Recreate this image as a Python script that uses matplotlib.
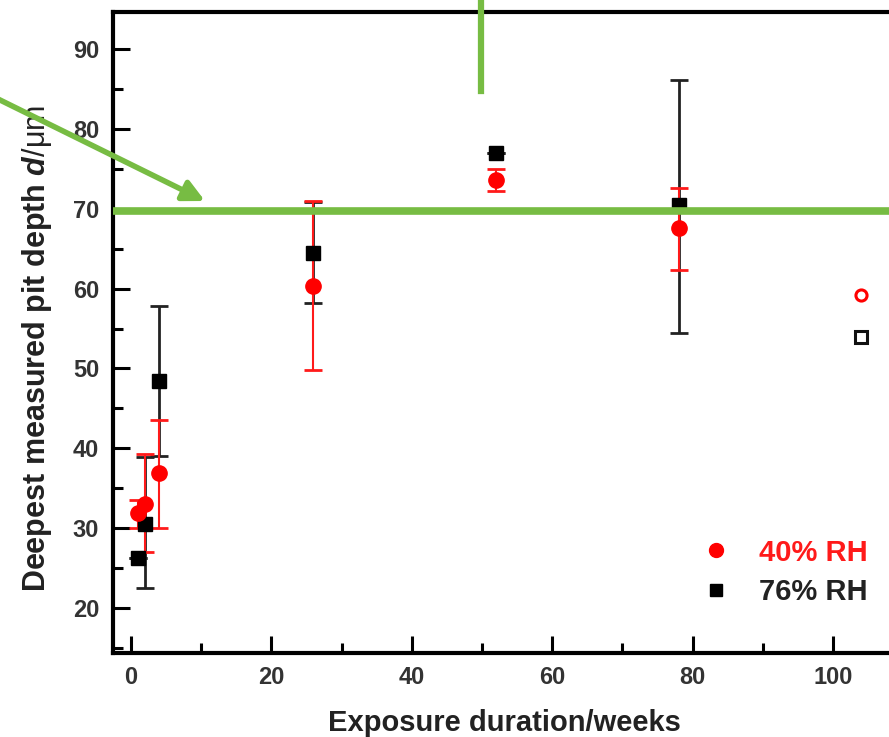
import matplotlib
matplotlib.use("Agg")
import matplotlib.pyplot as plt
from matplotlib.lines import Line2D
from matplotlib.patches import FancyArrowPatch
from matplotlib.ticker import MultipleLocator

plt.rcParams["font.family"] = ["Liberation Sans", "DejaVu Sans"]
plt.rcParams["mathtext.fontset"] = "custom"
plt.rcParams["mathtext.rm"] = "Liberation Sans"
plt.rcParams["mathtext.it"] = "Liberation Sans:italic"
plt.rcParams["mathtext.bf"] = "Liberation Sans:bold"
plt.rcParams["mathtext.bfit"] = "Liberation Sans:italic:bold"

# 40% RH series (filled circles)
weeks_40 = [1, 2, 4, 26, 52, 78]
depth_40 = [31.9, 33.1, 36.9, 60.3, 73.6, 67.6]
low_40 = [30.0, 27.0, 30.0, 49.8, 72.2, 62.3]
high_40 = [33.6, 39.3, 43.6, 70.9, 75.0, 72.6]

# 76% RH series (filled squares)
weeks_76 = [1, 2, 4, 26, 52, 78]
depth_76 = [26.3, 30.6, 48.4, 64.4, 77.0, 70.5]
low_76 = [26.3, 22.5, 39.0, 58.2, 77.0, 54.4]
high_76 = [26.3, 38.9, 57.8, 70.8, 77.0, 86.1]

# two-year single measurements (open symbols)
weeks_late = [104]
depth_late_40 = [59.2]
depth_late_76 = [53.9]

# reference depth level
ref_depth = 69.75

x_ticks = [0, 20, 40, 60, 80, 100]
y_ticks = [20, 30, 40, 50, 60, 70, 80, 90]

W, H = 889, 737
fig = plt.figure(figsize=(W / 100, H / 100), dpi=100)
ax = fig.add_axes([113 / W, 1 - 653 / H, (W - 113) / W, (653 - 12) / H])

green = "#77bc43"

err76 = [[d - l for d, l in zip(depth_76, low_76)],
         [h - d for d, h in zip(depth_76, high_76)]]
err40 = [[d - l for d, l in zip(depth_40, low_40)],
         [h - d for d, h in zip(depth_40, high_40)]]

ax.errorbar(weeks_76, depth_76, yerr=err76, fmt="none", ecolor="#222222",
            elinewidth=2.0, capsize=6.5, capthick=2.0, zorder=2)
ax.errorbar(weeks_40, depth_40, yerr=err40, fmt="none", ecolor="#ff1a1a",
            elinewidth=1.5, capsize=6.5, capthick=2.0, zorder=3)
ax.plot(weeks_76, depth_76, linestyle="none", marker="s", markersize=9.5,
        color="black", zorder=4)
ax.plot(weeks_40, depth_40, linestyle="none", marker="o", markersize=11,
        color="#ff0000", zorder=5)
ax.plot(weeks_late, depth_late_40, linestyle="none", marker="o", markersize=8,
        markerfacecolor="white", markeredgecolor="#ff0000",
        markeredgewidth=2.2, zorder=5)
ax.plot(weeks_late, depth_late_76, linestyle="none", marker="s", markersize=8,
        markerfacecolor="white", markeredgecolor="#111111",
        markeredgewidth=2.2, zorder=5)

ax.axhline(ref_depth, color=green, linewidth=5.5, zorder=6)

ax.set_xlim(-2.56, 107.98)
ax.set_ylim(14.4, 94.6)
ax.set_xticks(x_ticks)
ax.set_yticks(y_ticks)
ax.xaxis.set_minor_locator(MultipleLocator(10))
ax.yaxis.set_minor_locator(MultipleLocator(5))

for side in ("left", "bottom", "top"):
    ax.spines[side].set_linewidth(3)
ax.spines["right"].set_visible(False)

ax.tick_params(which="both", direction="in", top=False, right=False, width=2.2,
               labelsize=17, labelcolor="#333333")
ax.tick_params(which="major", length=12)
ax.tick_params(which="minor", length=7)
ax.tick_params(axis="y", which="major", pad=10)
ax.tick_params(axis="x", which="major", pad=9)
for lbl in ax.get_xticklabels() + ax.get_yticklabels():
    lbl.set_fontweight("bold")

ax.set_xlabel("Exposure duration/weeks", fontsize=21, fontweight="bold",
              color="#222222")
ax.xaxis.set_label_coords((504 - 113) / (W - 113), -(709 - 653) / (653 - 12))
ax.set_ylabel(r"Deepest measured pit depth $\mathbfit{d}$$\mathrm{/μm}$",
              fontsize=22, fontweight="bold", color="#222222")
ax.yaxis.set_label_coords(-(113 - 54) / (W - 113), (653 - 349) / (653 - 12))

handles = [
    Line2D([], [], linestyle="none", marker="o", markersize=10, color="#ff0000"),
    Line2D([], [], linestyle="none", marker="s", markersize=8, color="black"),
]
leg = ax.legend(handles, ["40% RH", "76% RH"], loc="lower right",
                bbox_to_anchor=(1.006, 0.032), frameon=False,
                prop={"size": 21, "weight": "bold"}, handletextpad=0.85,
                labelspacing=0.4, handlelength=1.2,
                labelcolor=["#ff1a1a", "#222222"])

# annotation strokes above and left of the axes
fig.add_artist(Line2D([481 / W, 481 / W], [1.0, 1 - 91 / H],
                      transform=fig.transFigure, color=green, linewidth=4.5))
fig.add_artist(FancyArrowPatch((-2 / W, 1 - 99 / H), (205 / W, 1 - 201 / H),
                               transform=fig.transFigure, color=green,
                               linewidth=4, arrowstyle="-|>",
                               mutation_scale=32, shrinkA=0, shrinkB=0))

fig.savefig("out.png", dpi=100)
